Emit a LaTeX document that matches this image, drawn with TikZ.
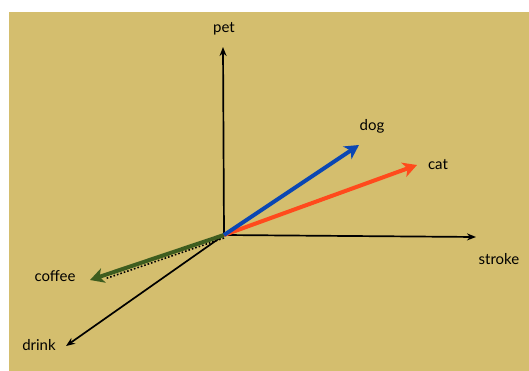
\documentclass[tikz,border=0pt]{standalone}
\usepackage{fontspec}
\setmainfont{Lato}
\usepackage{xcolor}
\usepackage{tikz}
\usetikzlibrary{positioning, arrows.meta, calc}
\definecolor{sand}{HTML}{D4BE6E}
\definecolor{dogblue}{HTML}{0B47B3}
\definecolor{catred}{HTML}{FF4A1C}
\definecolor{coffeegreen}{HTML}{3E5D1F}

\begin{document}
\begin{tikzpicture}[x=1pt, y=-1pt,
    axis/.style={draw=black, line width=1.7pt, -{Stealth[length=9pt, width=7pt]}},
    wordvec/.style={line width=4pt, -{Stealth[length=14pt, width=15pt, inset=4pt]}},
    lbl/.style={font=\fontsize{15}{17}\selectfont, inner sep=1pt}]
    \useasboundingbox (0,0) rectangle (529,371);
    \fill[white] (0,0) rectangle (529,371);
    \fill[sand] (9,12) rectangle (529,371);

    % axes
    \coordinate (origin) at (224,235);
    \coordinate (petend) at (223,47);
    \coordinate (strokeend) at (476,237);
    \coordinate (drinkend) at (66,346);
    \node[lbl] (pet) at (224,29) {pet};
    \node[lbl] (stroke) at (499,259) {stroke};
    \node[lbl] (drink) at (39,345) {drink};
    \draw[axis] (origin) -- (petend);
    \draw[axis] (origin) -- (strokeend);
    \draw[axis] (origin) -- (drinkend);

    % word vectors
    \coordinate (dogend) at (359,145);
    \coordinate (catend) at (417,165);
    \coordinate (coffeeend) at (90,280);
    \node[lbl] (dog) at (372,126) {dog};
    \node[lbl] (cat) at (438,165) {cat};
    \node[lbl] (coffee) at (55,276) {coffee};
    \draw[black, line width=1.6pt, dotted] ($(origin)+(0,3)$) -- ($(coffeeend)+(16,-1.5)$);
    \draw[wordvec, coffeegreen] (origin) -- (coffeeend);
    \draw[wordvec, catred] (origin) -- (catend);
    \draw[wordvec, dogblue] (origin) -- (dogend);
  \end{tikzpicture}
\end{document}
